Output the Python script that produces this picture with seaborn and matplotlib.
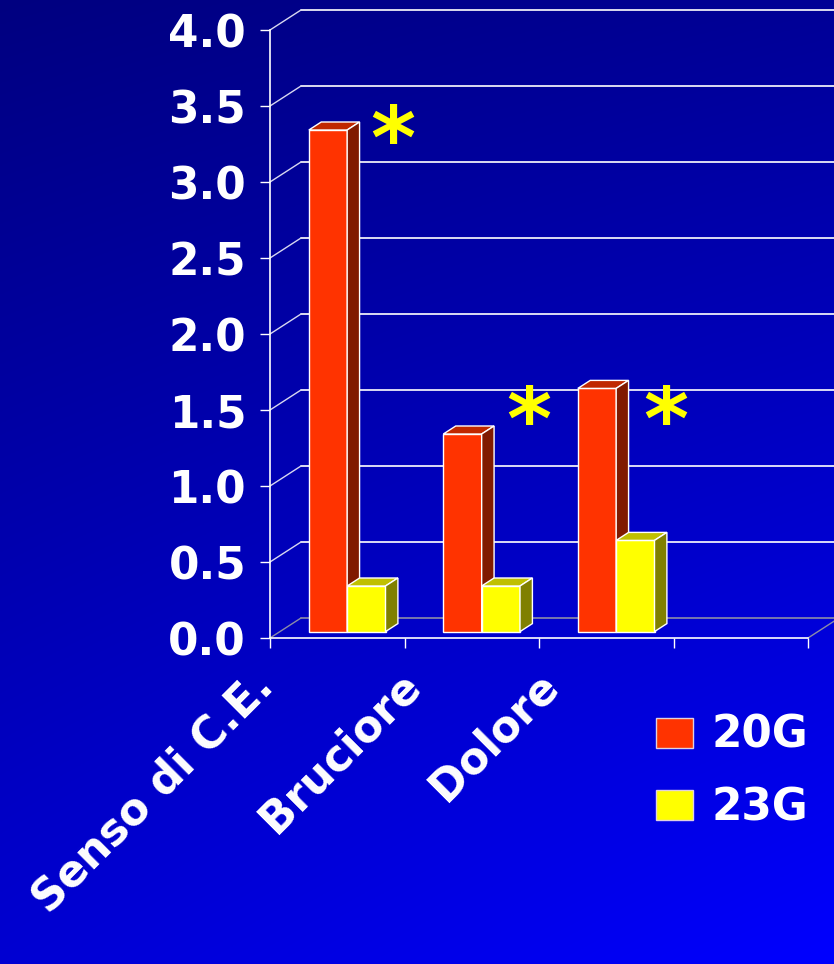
import numpy as np
import pandas as pd
import matplotlib
matplotlib.use("Agg")
import matplotlib.pyplot as plt
from matplotlib.patches import Polygon, Rectangle
import seaborn as sns

# ---- data ----
categories = ["Senso di C.E.", "Bruciore", "Dolore"]
series_names = ["20G", "23G"]
values_20g = [3.3, 1.3, 1.6]
values_23g = [0.3, 0.3, 0.6]
y_ticks = [0.0, 0.5, 1.0, 1.5, 2.0, 2.5, 3.0, 3.5, 4.0]
y_tick_labels = [f"{v:.1f}" for v in y_ticks]
significance_labels = ["*", "*", "*"]

# ---- layout / style ----
W, H = 834, 964
FRONT = {"20G": "#FF3300", "23G": "#FFFF00"}
TOP = {"20G": "#C02800", "23G": "#C0C000"}
SIDE = {"20G": "#801A00", "23G": "#808000"}
WALL_DX, WALL_DY = 0.2305, 0.1316      # oblique depth of the floor/back wall (data units)
BAR_FRONT, BAR_DEPTH = 0.32, 0.40      # bar placement inside that depth (fractions)
label_nudge = [-0.463, -0.3625, -0.344]
star_pos = [(0.414, 3.25), (1.426, 1.40), (2.44, 1.40)]
FS = 31.5

sns.set_theme(style="white")
plt.rcParams["font.family"] = ["DejaVu Sans"]
plt.rcParams["font.weight"] = "bold"

fig = plt.figure(figsize=(W / 100, H / 100), dpi=100)

# navy-to-blue background, darkest top-left, brightest bottom-right
bg = fig.add_axes([0, 0, 1, 1], zorder=-10)
xx, yy = np.meshgrid(np.linspace(0, 1, 400), np.linspace(0, 1, 400))
blue = (128 + 22 * xx + 82 * yy + 23 * xx * yy) / 255
img = np.dstack([np.zeros_like(blue), np.zeros_like(blue), blue])
bg.imshow(img, aspect="auto", extent=[0, 1, 1, 0])
bg.axis("off")

ax = fig.add_axes([270 / W, 1 - 638 / H, (808 - 270) / W, (638 - 30) / H])
ax.patch.set_alpha(0)

df = pd.DataFrame({
    "category": categories * 2,
    "series": [series_names[0]] * 3 + [series_names[1]] * 3,
    "value": values_20g + values_23g,
})
sns.barplot(data=df, x="category", y="value", hue="series", hue_order=series_names,
            palette=FRONT, saturation=1, width=0.57, edgecolor="white", linewidth=1,
            legend=False, ax=ax)

# back wall, side wall and floor
for v in y_ticks:
    ax.plot([-0.5 + WALL_DX, 3.5 + WALL_DX], [v + WALL_DY] * 2,
            color="#8C8CA8" if v == 0 else "white", lw=1.2, clip_on=False, zorder=1)
    ax.plot([-0.5, -0.5 + WALL_DX], [v, v + WALL_DY],
            color="#8C8CA8" if v == 0 else "#D8D8F0", lw=1, clip_on=False, zorder=1)
ax.plot([3.5, 3.5 + WALL_DX], [0, WALL_DY], color="#8C8CA8", lw=1, clip_on=False, zorder=1)

# extrude the bars into boxes
ddx, ddy = BAR_DEPTH * WALL_DX, BAR_DEPTH * WALL_DY
for k, (level, cont) in enumerate(zip(series_names, ax.containers)):
    z = 2 + 0.3 * k
    for bar in cont:
        bar.set_x(bar.get_x() + BAR_FRONT * WALL_DX)
        bar.set_y(bar.get_y() + BAR_FRONT * WALL_DY)
        bar.set_zorder(z)
        x0, y0 = bar.get_x(), bar.get_y()
        x1, y1 = x0 + bar.get_width(), y0 + bar.get_height()
        ax.add_patch(Polygon([(x0, y1), (x1, y1), (x1 + ddx, y1 + ddy), (x0 + ddx, y1 + ddy)],
                             closed=True, fc=TOP[level], ec="white", lw=1, zorder=z + 0.1,
                             clip_on=False))
        ax.add_patch(Polygon([(x1, y0), (x1, y1), (x1 + ddx, y1 + ddy), (x1 + ddx, y0 + ddy)],
                             closed=True, fc=SIDE[level], ec="white", lw=1, zorder=z + 0.1,
                             clip_on=False))

ax.set_xlim(-0.5, 3.5)
ax.set_ylim(0, 4)
ax.set_xlabel("")
ax.set_ylabel("")
for side in ["top", "right"]:
    ax.spines[side].set_visible(False)
for side in ["left", "bottom"]:
    ax.spines[side].set_color("white")
    ax.spines[side].set_linewidth(1.2)

ax.set_xticks([-0.5, 0.5, 1.5, 2.5, 3.5])
ax.set_xticklabels([])
ax.set_yticks(y_ticks)
ax.set_yticklabels(y_tick_labels)
ax.tick_params(axis="both", length=7.2, width=1, color="white", direction="out",
               labelcolor="white", labelsize=FS, pad=10, bottom=True, left=True)

for i, (cat, nudge) in enumerate(zip(categories, label_nudge)):
    ax.text(i + nudge, -0.082, cat, transform=ax.get_xaxis_transform(), rotation=45,
            rotation_mode="anchor", ha="right", va="baseline", color="white",
            fontsize=FS, fontweight="bold")

for s, (sx, sy) in zip(significance_labels, star_pos):
    ax.text(sx, sy, s, color="#FFFF00", fontsize=62, fontweight="bold",
            ha="center", va="center", zorder=5)

handles = [Rectangle((0, 0), 1, 1, fc=FRONT[s], ec="#E0D0E0", lw=1) for s in series_names]
fig.legend(handles, series_names, loc="upper left", bbox_to_anchor=(656 / W, 1 - 714 / H),
           frameon=False, prop={"size": FS, "weight": "bold"}, labelcolor="white",
           handlelength=0.84, handleheight=0.68, handletextpad=0.42, labelspacing=0.68,
           borderpad=0, borderaxespad=0)

fig.savefig("out.png", dpi=100)
